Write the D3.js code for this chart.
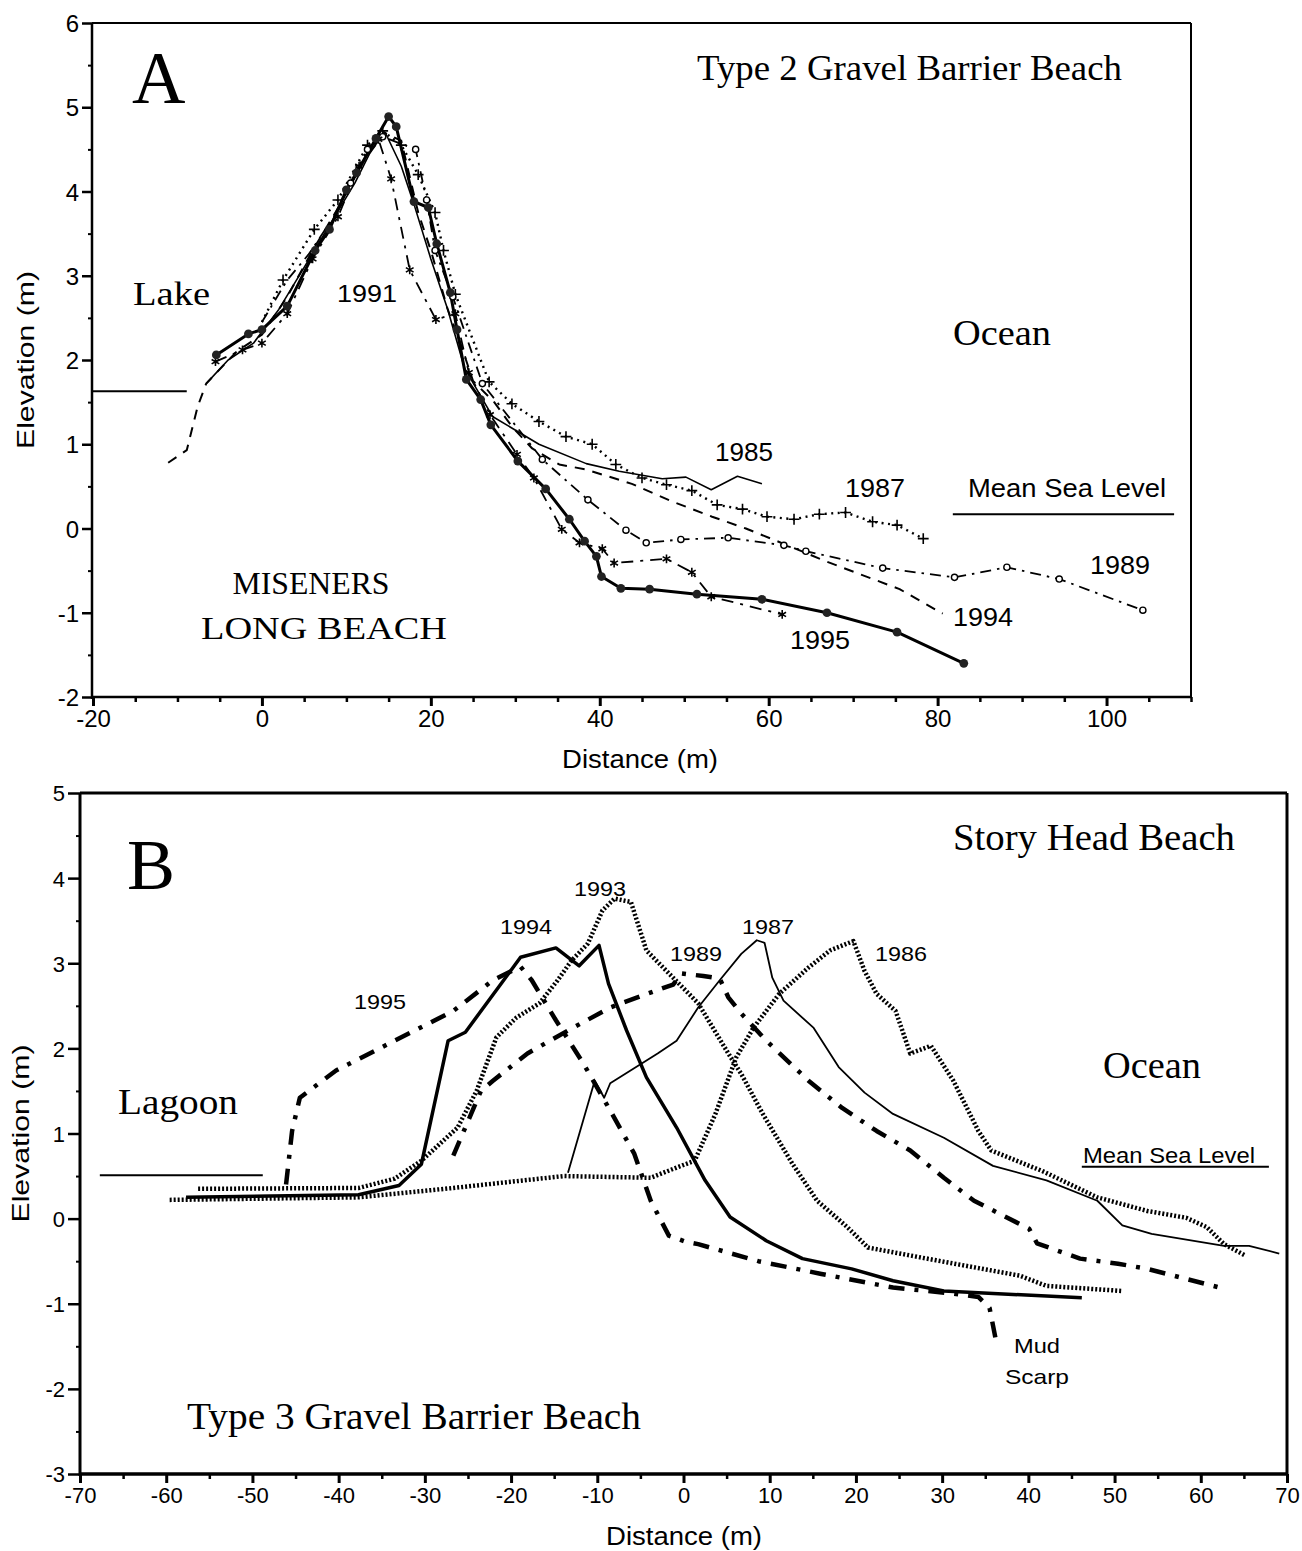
<!DOCTYPE html>
<html><head><meta charset="utf-8">
<script src="https://cdn.jsdelivr.net/npm/d3@7"></script>
<style>body{margin:0;background:#fff}</style>
</head><body>
<svg id="c" width="1302" height="1551"></svg>
<script>
// ---------- Panel A: Miseners Long Beach (distance m, elevation m) ----------
const aX_ticks = [-20, 0, 20, 40, 60, 80, 100];
const aY_ticks = [-2, -1, 0, 1, 2, 3, 4, 5, 6];
const a1985 = [[-6.6,1.72],[-4,2.0],[-1,2.2],[2,2.6],[5,3.1],[8,3.6],[11,4.1],[13,4.5],[14.6,4.7],[16.5,4.3],[18,3.85],[20,3.2],[22,2.6],[24,1.9],[27.3,1.33],[32.8,1.0],[38.4,0.77],[42.3,0.68],[47.4,0.59],[50.2,0.61],[53.2,0.46],[56.3,0.62],[59.2,0.53]];
const a1987 = [[0,2.45],[2.5,2.95],[6.2,3.55],[9,3.9],[12.5,4.55],[14.3,4.72],[16.5,4.55],[18.5,4.2],[20.5,3.75],[21.5,3.3],[22.9,2.78],[26.9,1.74],[29.6,1.48],[32.8,1.27],[36.0,1.09],[39.1,1.0],[41.9,0.76],[45.0,0.60],[47.9,0.52],[50.9,0.45],[53.9,0.28],[56.9,0.23],[59.8,0.14],[63.0,0.11],[66.0,0.17],[69.1,0.19],[72.3,0.08],[75.2,0.04],[78.3,-0.12]];
const a1989 = [[0,2.45],[3,2.95],[5.5,3.25],[8.5,3.7],[10.5,4.1],[12.5,4.5],[14.3,4.65],[18.2,4.5],[19.5,3.9],[20.5,3.3],[22.6,2.75],[26.1,1.72],[33.2,0.82],[38.6,0.34],[43.1,-0.02],[45.5,-0.17],[49.6,-0.13],[55.2,-0.11],[61.8,-0.2],[64.4,-0.27],[73.5,-0.47],[82.0,-0.58],[88.2,-0.46],[94.4,-0.6],[104.3,-0.97]];
const a1991 = [[-5.5,1.98],[-2.3,2.12],[0,2.2],[3,2.55],[6,3.2],[9,3.7],[11.5,4.3],[13.8,4.62],[15.3,4.15],[17.5,3.07],[20.6,2.48],[22.9,2.55],[24.5,1.85],[27,1.35],[30.2,0.88],[32.2,0.6],[35.5,-0.01],[37.6,-0.17],[40.3,-0.24],[41.7,-0.41],[47.9,-0.36],[50.9,-0.52],[53.2,-0.81],[61.6,-1.02]];
const a1994 = [[-11.1,0.78],[-8.9,0.93],[-7.6,1.45],[-6.6,1.72],[-3,2.1],[0,2.3],[3,2.75],[6,3.3],[9,3.8],[12,4.35],[14.5,4.7],[16.5,4.6],[18.5,3.75],[20,3.3],[22,2.6],[23.5,2.2],[25,1.75],[27.5,1.5],[29.6,1.21],[32,0.95],[35.2,0.76],[38.4,0.70],[43.8,0.53],[48.6,0.32],[53.3,0.14],[57.3,0.0],[61,-0.15],[66.8,-0.39],[75.5,-0.72],[80.6,-1.01]];
const a1995 = [[-5.4,2.06],[-1.6,2.31],[0,2.36],[3.0,2.64],[6.3,3.30],[8.0,3.55],[10.0,4.02],[11.2,4.22],[13.5,4.63],[15.0,4.89],[15.9,4.77],[18.0,3.88],[19.7,3.81],[20.7,3.38],[22.3,2.80],[23.1,2.36],[24.2,1.77],[25.9,1.53],[27.1,1.23],[30.3,0.80],[33.6,0.47],[36.4,0.11],[38.2,-0.15],[39.6,-0.33],[40.2,-0.57],[42.5,-0.71],[45.9,-0.72],[51.5,-0.78],[59.2,-0.84],[66.9,-1.0],[75.2,-1.23],[83.1,-1.60]];
const aLakeLevel = [[-20,1.63],[-8.9,1.63]];
const aSeaLevel = [[81.8,0.17],[108,0.17]];

// ---------- Panel B: Story Head Beach ----------
const bX_ticks = [-70,-60,-50,-40,-30,-20,-10,0,10,20,30,40,50,60,70];
const bY_ticks = [-3,-2,-1,0,1,2,3,4,5];
const b1986 = [[-59.6,0.22],[-37.7,0.25],[-26.7,0.36],[-13.9,0.50],[-3.8,0.48],[-0.8,0.60],[1.3,0.68],[3.7,1.23],[6.1,1.89],[8.1,2.24],[11.1,2.64],[14.5,2.95],[17.0,3.15],[19.7,3.26],[21.0,2.91],[22.4,2.64],[24.6,2.44],[26.3,1.94],[28.7,2.03],[31.3,1.62],[34.2,1.03],[35.7,0.80],[41.6,0.56],[48.0,0.25],[53.8,0.09],[58.3,0.01],[60.7,-0.1],[62.7,-0.3],[65.1,-0.43]];
const b1987 = [[-13.4,0.54],[-10.3,1.62],[-9.2,1.42],[-8.5,1.59],[-3.0,1.94],[-0.8,2.09],[1.7,2.48],[4.2,2.80],[6.7,3.11],[8.5,3.27],[9.4,3.24],[10.3,2.83],[11.6,2.56],[15.1,2.24],[18.0,1.78],[21.0,1.48],[24.3,1.23],[30.2,0.95],[35.9,0.62],[42.1,0.45],[48.0,0.21],[50.9,-0.08],[54.3,-0.18],[62.7,-0.32],[65.6,-0.32],[69.1,-0.41]];
const b1989 = [[-26.7,0.74],[-23.5,1.50],[-22.1,1.62],[-18.1,1.94],[-13.4,2.21],[-8.5,2.48],[-4.8,2.62],[-1.2,2.75],[-0.2,2.88],[2.3,2.85],[4.2,2.82],[5.2,2.60],[6.7,2.41],[9.6,2.09],[14.5,1.62],[18.4,1.30],[22.4,1.03],[26.3,0.80],[30.2,0.48],[33.7,0.21],[40.1,-0.12],[41.0,-0.29],[46.0,-0.47],[50.4,-0.53],[53.8,-0.59],[62.2,-0.81]];
const b1993 = [[-56.3,0.35],[-37.7,0.36],[-33.5,0.47],[-30.4,0.68],[-26.2,1.07],[-24.0,1.50],[-21.7,2.13],[-19.4,2.36],[-16.7,2.53],[-14.6,2.80],[-13.0,3.03],[-11.1,3.23],[-9.4,3.62],[-8.0,3.76],[-6.1,3.72],[-4.3,3.15],[-1.2,2.83],[1.7,2.53],[5.2,1.94],[6.7,1.70],[9.2,1.23],[12.6,0.65],[15.5,0.21],[19.0,-0.1],[21.4,-0.34],[29.3,-0.49],[39.0,-0.67],[42.1,-0.79],[50.9,-0.85]];
const b1994 = [[-57.7,0.25],[-37.7,0.28],[-33.0,0.39],[-30.4,0.64],[-27.3,2.09],[-25.3,2.19],[-18.9,3.07],[-14.8,3.18],[-12.1,2.97],[-9.8,3.21],[-8.7,2.76],[-6.6,2.21],[-4.3,1.66],[-0.8,1.07],[2.5,0.45],[5.4,0.02],[9.6,-0.26],[13.8,-0.47],[19.5,-0.59],[24.3,-0.73],[30.2,-0.85],[46.2,-0.93]];
const b1995 = [[-46.1,0.40],[-45.4,1.03],[-44.5,1.42],[-40.3,1.74],[-33.5,2.09],[-26.7,2.44],[-22.1,2.80],[-18.9,2.96],[-17.6,2.8],[-14.8,2.33],[-11.6,1.82],[-8.5,1.27],[-5.7,0.76],[-3.8,0.21],[-1.7,-0.20],[0.2,-0.27],[1.7,-0.30],[8.7,-0.50],[16.0,-0.65],[24.3,-0.81],[31.3,-0.88],[34.2,-0.92],[35.5,-1.05],[36.2,-1.41]];
const bLagoonLevel = [[-67.7,0.51],[-48.8,0.51]];
const bSeaLevel = [[46.2,0.61],[67.9,0.61]];

const SANS = "'Liberation Sans', Arial, sans-serif";
const SERIF = "'Liberation Serif', 'Times New Roman', serif";
const svg = d3.select("#c");

function panel(cfg) {
  const g = svg.append("g");
  const x = d3.scaleLinear().domain(cfg.xd).range(cfg.xr);
  const y = d3.scaleLinear().domain(cfg.yd).range(cfg.yr);
  const x0 = cfg.xr[0] - cfg.axOff, x1 = cfg.xr[1], y0 = cfg.yr[0], y1 = cfg.yr[1];
  g.append("line").attr("x1", x0).attr("x2", x1).attr("y1", y1).attr("y2", y1).attr("stroke", "#000").attr("stroke-width", cfg.topW);
  g.append("line").attr("x1", x1).attr("x2", x1).attr("y1", y1).attr("y2", y0).attr("stroke", "#000").attr("stroke-width", cfg.rightW);
  const xMinor = d3.range(cfg.xd[0], cfg.xd[1] + 0.001, cfg.xMinor).filter(v => !cfg.xt.includes(v));
  const yMinor = d3.range(cfg.yd[0], cfg.yd[1] + 0.001, 0.5).filter(v => !cfg.yt.includes(v));
  g.append("g").attr("transform", `translate(0,${y0})`)
    .call(d3.axisBottom(x).tickValues(xMinor).tickSize(5).tickSizeOuter(0).tickFormat(""))
    .call(s => { s.select(".domain").remove(); s.selectAll("line").attr("stroke-width", 2.5); });
  g.append("g").attr("transform", `translate(${x0},0)`)
    .call(d3.axisLeft(y).tickValues(yMinor).tickSize(4).tickSizeOuter(0).tickFormat(""))
    .call(s => { s.select(".domain").remove(); s.selectAll("line").attr("stroke-width", 2); });
  const xa = g.append("g").attr("transform", `translate(0,${y0})`)
    .call(d3.axisBottom(x).tickValues(cfg.xt).tickSize(9).tickSizeOuter(0).tickPadding(4).tickFormat(d => String(d)));
  xa.attr("font-size", null).attr("font-family", null);
  xa.select(".domain").attr("d", `M${x0},0H${x1}`).attr("stroke-width", cfg.botW);
  xa.selectAll("line").attr("stroke-width", 3);
  xa.selectAll("text").style("font-family", SANS).style("font-size", cfg.tickFs + "px").attr("fill", "#000");
  const ya = g.append("g").attr("transform", `translate(${x0},0)`)
    .call(d3.axisLeft(y).tickValues(cfg.yt).tickSize(cfg.yTick).tickSizeOuter(0).tickPadding(3).tickFormat(d => String(d)));
  ya.attr("font-size", null).attr("font-family", null);
  ya.select(".domain").attr("d", `M0,${y0 + 2}V${y1}`).attr("stroke-width", cfg.leftW);
  ya.selectAll("line").attr("stroke-width", 2.5);
  ya.selectAll("text").style("font-family", SANS).style("font-size", cfg.tickFs + "px").attr("fill", "#000").attr("dy", "0.36em");
  g.append("text").attr("transform", `translate(${cfg.yTitleX},${(y0 + y1) / 2}) rotate(-90)`)
    .attr("text-anchor", "middle").attr("font-family", SANS).attr("font-size", 24)
    .attr("textLength", 178).attr("lengthAdjust", "spacingAndGlyphs").text("Elevation (m)");
  g.append("text").attr("x", cfg.xTitleX).attr("y", cfg.xTitleY)
    .attr("text-anchor", "middle").attr("font-family", SANS).attr("font-size", 25)
    .attr("textLength", 156).attr("lengthAdjust", "spacingAndGlyphs").text("Distance (m)");
  return {g, x, y};
}

function drawLine(p, data, style) {
  const line = d3.line().x(d => p.x(d[0])).y(d => p.y(d[1]));
  p.g.append("path").attr("d", line(data)).attr("fill", "none").attr("stroke", "#000")
    .attr("stroke-width", style.w).attr("stroke-dasharray", style.dash || null)
    .attr("stroke-linecap", style.cap || "butt").attr("stroke-linejoin", "round");
}
function drawMarkers(p, data, type) {
  const sel = p.g.append("g").selectAll("path").data(data).join("path")
    .attr("transform", d => `translate(${p.x(d[0])},${p.y(d[1])})`);
  if (type === "filled") sel.attr("d", d3.symbol(d3.symbolCircle, 60)).attr("fill", "#222");
  if (type === "open") sel.attr("d", d3.symbol(d3.symbolCircle, 30)).attr("fill", "#fff").attr("stroke", "#000").attr("stroke-width", 1.4);
  if (type === "plus") sel.attr("d", d3.symbol(d3.symbolPlus, 40)).attr("fill", "none").attr("stroke", "#000").attr("stroke-width", 1.6);
  if (type === "star") sel.attr("d", d3.symbol(d3.symbolAsterisk, 55)).attr("fill", "none").attr("stroke", "#000").attr("stroke-width", 1.6);
}
function label(p, txt, x, y, fs, fam, anchor, len) {
  const t = p.g.append("text").attr("x", x).attr("y", y).attr("font-family", fam).attr("font-size", fs)
    .attr("text-anchor", anchor || "start").text(txt);
  if (len) t.attr("textLength", len).attr("lengthAdjust", "spacingAndGlyphs");
  return t;
}

// ---------- Panel A ----------
const A = panel({xd: [-20, 110], yd: [-2, 6], xr: [93, 1191], yr: [697, 23], axOff: 1,
  xt: aX_ticks, yt: aY_ticks, xMinor: 5, tickFs: 24, yTick: 10, leftW: 2.5, botW: 2.5, topW: 2, rightW: 2,
  yTitleX: 34, xTitleX: 640, xTitleY: 768});
drawLine(A, aLakeLevel, {w: 2});
drawLine(A, aSeaLevel, {w: 2});
drawLine(A, a1985, {w: 1.6});
drawLine(A, a1987, {w: 2.4, dash: "2,4.5"});
drawLine(A, a1989, {w: 1.8, dash: "11,6,2.5,6"});
drawLine(A, a1991, {w: 1.8, dash: "12,7,3,7"});
drawLine(A, a1994, {w: 2, dash: "10,8"});
drawLine(A, a1995, {w: 3});
drawMarkers(A, a1987.slice(1), "plus");
drawMarkers(A, a1989.filter(d => d[0] > 10), "open");
drawMarkers(A, a1991, "star");
drawMarkers(A, a1995, "filled");

label(A, "A", 132, 103, 74, SERIF);
label(A, "Type  2 Gravel Barrier Beach", 697, 80, 35, SERIF, "start", 425);
label(A, "Lake", 133, 305, 34, SERIF, "start", 77);
label(A, "Ocean", 953, 345, 36, SERIF, "start", 98);
label(A, "MISENERS", 311, 594, 32, SERIF, "middle", 157);
label(A, "LONG BEACH", 324, 639, 32, SERIF, "middle", 246);
label(A, "1991", 337, 302, 23, SANS, "start", 60);
label(A, "1985", 715, 461, 25, SANS, "start", 58);
label(A, "1987", 845, 497, 25, SANS, "start", 60);
label(A, "Mean Sea Level", 968, 497, 25, SANS, "start", 198);
label(A, "1989", 1090, 574, 25, SANS, "start", 60);
label(A, "1994", 953, 626, 25, SANS, "start", 60);
label(A, "1995", 790, 649, 25, SANS, "start", 60);

// ---------- Panel B ----------
const B = panel({xd: [-70, 70], yd: [-3, 5], xr: [80, 1287], yr: [1474, 793], axOff: 0,
  xt: bX_ticks, yt: bY_ticks, xMinor: 5, tickFs: 22, yTick: 12, leftW: 3, botW: 3.5, topW: 3, rightW: 3,
  yTitleX: 29, xTitleX: 684, xTitleY: 1545});
drawLine(B, bLagoonLevel, {w: 2});
drawLine(B, bSeaLevel, {w: 2});
drawLine(B, b1986, {w: 4.5, dash: "2,2"});
drawLine(B, b1993, {w: 4.5, dash: "2,2"});
drawLine(B, b1987, {w: 1.8});
drawLine(B, b1994, {w: 3.5});
drawLine(B, b1989, {w: 4.5, dash: "16,10,4,10"});
drawLine(B, b1995, {w: 4.5, dash: "16,10,4,10"});

label(B, "B", 127, 889, 72, SERIF);
label(B, "Story Head Beach", 953, 850, 37, SERIF, "start", 282);
label(B, "Lagoon", 118, 1114, 36, SERIF, "start", 120);
label(B, "Ocean", 1103, 1078, 37, SERIF, "start", 98);
label(B, "Type 3 Gravel Barrier Beach", 187, 1429, 37, SERIF, "start", 454);
label(B, "1993", 574, 896, 21, SANS, "start", 52);
label(B, "1994", 500, 934, 21, SANS, "start", 52);
label(B, "1995", 354, 1009, 21, SANS, "start", 52);
label(B, "1989", 670, 961, 21, SANS, "start", 52);
label(B, "1987", 742, 934, 21, SANS, "start", 52);
label(B, "1986", 875, 961, 21, SANS, "start", 52);
label(B, "Mean Sea Level", 1083, 1163, 22, SANS, "start", 172);
label(B, "Mud", 1014, 1353, 21, SANS, "start", 46);
label(B, "Scarp", 1005, 1384, 21, SANS, "start", 64);
</script>
</body></html>
